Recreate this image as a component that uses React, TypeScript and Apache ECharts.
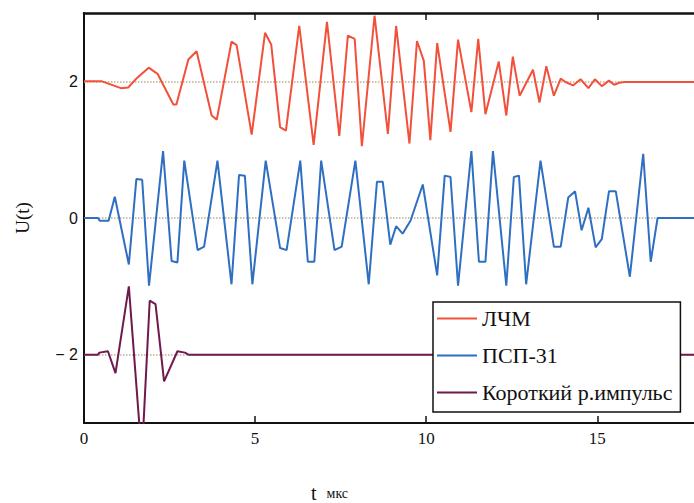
import React, { useEffect, useRef } from 'react';
import * as echarts from 'echarts';

const seriesNames = ['ЛЧМ', 'ПСП-31', 'Короткий р.импульс'];
const seriesColors = ['#f2503a', '#2f6fc2', '#6e1a4c'];
const xTickValues = [0, 5, 10, 15];
const yTickValues = [-2, 0, 2];
const baseLevels = [2, 0, -2];

// ЛЧМ (offset +2)
const lfmData: number[][] = [
  [0, 2], [0.53, 2], [0.75, 1.96], [1.08, 1.9], [1.29, 1.91], [1.55, 2.05], [1.89, 2.2], [2.15, 2.11],
  [2.61, 1.66], [2.7, 1.66], [3.05, 2.32], [3.29, 2.44], [3.73, 1.5], [3.88, 1.44], [4.31, 2.58],
  [4.46, 2.53], [4.9, 1.22], [5.29, 2.71], [5.47, 2.54], [5.73, 1.33], [5.9, 1.28], [6.29, 2.81],
  [6.71, 1.07], [7.1, 2.87], [7.46, 1.2], [7.71, 2.67], [7.91, 2.62], [8.12, 1.05], [8.49, 2.96],
  [8.88, 1.23], [9.12, 2.81], [9.51, 1.09], [9.73, 2.59], [9.93, 2.3], [10.12, 1.14], [10.32, 2.56],
  [10.71, 1.26], [10.93, 2.61], [11.32, 1.55], [11.52, 2.62], [11.73, 1.52], [12.12, 2.29],
  [12.34, 1.5], [12.53, 2.36], [12.73, 1.79], [13.12, 2.17], [13.31, 1.69], [13.51, 2.22],
  [13.73, 1.79], [13.93, 2.04], [14.07, 1.99], [14.29, 1.94], [14.51, 2.03], [14.74, 1.9],
  [14.93, 2.03], [15.13, 1.93], [15.34, 2.01], [15.49, 1.95], [15.64, 1.98], [15.8, 1.99], [18, 1.99],
];

// ПСП-31 (offset 0)
const pspData: number[][] = [
  [0, 0], [0.41, 0], [0.46, -0.04], [0.72, -0.04], [0.9, 0.31], [1.31, -0.68], [1.53, 0.57],
  [1.7, 0.56], [1.9, -0.99], [2.31, 0.98], [2.56, -0.63], [2.73, -0.65], [2.93, 0.84], [3.32, -0.47],
  [3.51, -0.42], [3.9, 0.84], [4.31, -0.97], [4.53, 0.63], [4.7, 0.62], [4.92, -0.97], [5.31, 0.84],
  [5.73, -0.44], [5.92, -0.47], [6.32, 0.84], [6.54, -0.64], [6.73, -0.64], [6.93, 0.84],
  [7.32, -0.47], [7.53, -0.42], [7.93, 0.84], [8.32, -0.97], [8.56, 0.53], [8.73, 0.53],
  [8.95, -0.39], [9.12, -0.12], [9.31, -0.23], [9.54, -0.04], [9.9, 0.49], [10.32, -0.84],
  [10.54, 0.62], [10.71, 0.6], [10.93, -0.99], [11.32, 0.98], [11.54, -0.64], [11.73, -0.64],
  [11.95, 0.98], [12.34, -0.99], [12.56, 0.6], [12.71, 0.62], [12.92, -0.97], [13.34, 0.84],
  [13.73, -0.42], [13.93, -0.42], [14.15, 0.3], [14.35, 0.39], [14.54, -0.18], [14.74, 0.15],
  [14.95, -0.43], [15.13, -0.31], [15.34, 0.39], [15.54, 0.39], [15.95, -0.86], [16.34, 0.94],
  [16.56, -0.64], [16.76, 0], [18, 0],
];

// Короткий р.импульс (offset -2)
const pulseData: number[][] = [
  [0, -2], [0.41, -2], [0.45, -1.97], [0.7, -1.95], [0.92, -2.27], [1.31, -1.0], [1.69, -3.5],
  [1.92, -1.21], [2.09, -1.26], [2.34, -2.39], [2.73, -1.95], [2.95, -1.97], [3.05, -2], [18, -2],
];

const allData = [lfmData, pspData, pulseData];

export default function App() {
  const ref = useRef<HTMLDivElement>(null);
  useEffect(() => {
    if (!ref.current) return;
    const chart = echarts.init(ref.current, null, { renderer: 'svg' });
    const axisCommon = {
      type: 'value' as const,
      min: 0,
      max: 18,
      interval: 5,
    };
    chart.setOption({
      animation: false,
      backgroundColor: '#ffffff',
      grid: { left: 84, right: -6, top: 13, bottom: 80, outerBoundsMode: 'none', containLabel: false },
      legend: {
        data: seriesNames,
        orient: 'vertical',
        left: 433,
        top: 302,
        padding: [5, 8, 8, 4],
        itemGap: 14,
        itemWidth: 40,
        itemHeight: 2,
        icon: 'rect',
        backgroundColor: '#ffffff',
        borderColor: '#111111',
        borderWidth: 1.5,
        borderRadius: 0,
        z: 10,
        textStyle: { fontFamily: 'Liberation Serif', fontSize: 22, color: '#111', lineHeight: 23 },
      },
      xAxis: [
        {
          ...axisCommon,
          position: 'bottom',
          name: '{t|t}   {u|мкс}',
          nameLocation: 'middle',
          nameGap: 60,
          nameTextStyle: {
            padding: [0, 125, 0, 0],
            rich: {
              t: { fontFamily: 'Liberation Serif', fontSize: 20, color: '#111' },
              u: { fontFamily: 'Liberation Serif', fontSize: 14, color: '#111' },
            },
          },
          axisLine: { show: true, onZero: false, lineStyle: { color: '#111', width: 2 } },
          axisTick: { show: true, inside: true, length: 7, lineStyle: { color: '#111', width: 1.5 } },
          axisLabel: {
            margin: 7,
            fontFamily: 'Liberation Serif',
            fontSize: 17,
            color: '#111',
            formatter: (v: number) => (xTickValues.includes(v) ? String(v) : ''),
          },
          splitLine: { show: false },
        },
        {
          ...axisCommon,
          position: 'top',
          axisLine: { show: true, onZero: false, lineStyle: { color: '#111', width: 2.5 } },
          axisTick: { show: true, inside: true, length: 7, lineStyle: { color: '#111', width: 1.5 } },
          axisLabel: { show: false },
          splitLine: { show: false },
        },
      ],
      yAxis: {
        type: 'value',
        min: -3,
        max: 3,
        interval: 1,
        name: 'U(t)',
        nameLocation: 'middle',
        nameRotate: 90,
        nameGap: 52,
        nameTextStyle: { fontFamily: 'Liberation Serif', fontSize: 19, color: '#111' },
        axisLine: { show: true, onZero: false, lineStyle: { color: '#111', width: 2 } },
        axisTick: { show: false },
        axisLabel: {
          margin: 6,
          fontFamily: 'Liberation Sans',
          fontSize: 16,
          color: '#111',
          formatter: (v: number) => (yTickValues.includes(v) ? (v < 0 ? '− ' + Math.abs(v) : String(v)) : ''),
        },
        splitLine: { show: false },
      },
      series: allData.map((d, i) => ({
        name: seriesNames[i],
        type: 'line',
        data: d,
        xAxisIndex: 0,
        showSymbol: false,
        symbol: 'none',
        clip: true,
        color: seriesColors[i],
        lineStyle: { color: seriesColors[i], width: 2 },
        z: 3,
        markLine: {
          silent: true,
          symbol: 'none',
          z: 1,
          label: { show: false },
          lineStyle: { color: '#bfae8e', type: 'dotted', width: 1.5 },
          data: [{ yAxis: baseLevels[i] }],
        },
      })),
    });
    return () => chart.dispose();
  }, []);
  return <div ref={ref} style={{ position: 'absolute', left: 0, top: 0, width: 694, height: 503 }} />;
}
